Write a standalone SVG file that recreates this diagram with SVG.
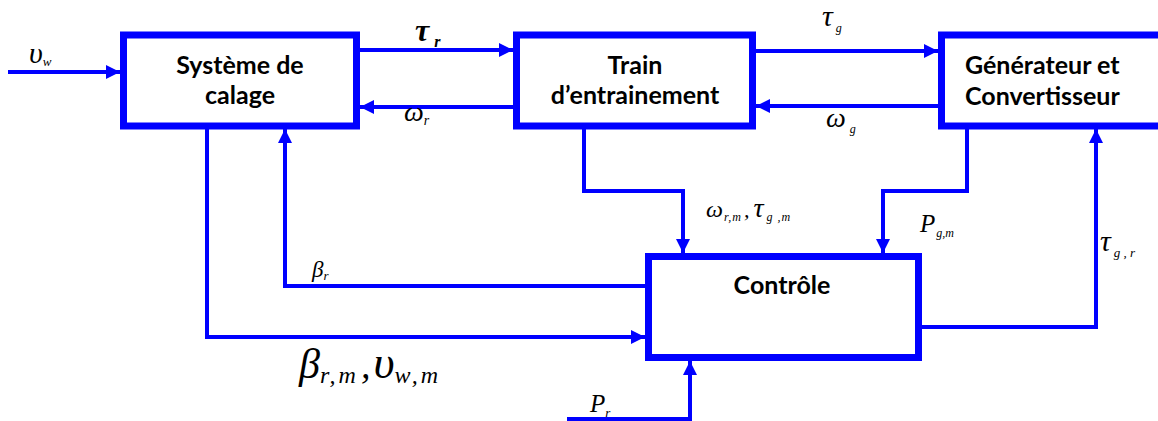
<svg xmlns="http://www.w3.org/2000/svg" width="1158" height="421" viewBox="0 0 1158 421">
  <defs>
    <marker id="arrow" markerUnits="userSpaceOnUse" markerWidth="14" markerHeight="14" viewBox="0 0 14 14" refX="14" refY="7" orient="auto">
      <path d="M0,0 L14,7 L0,14 Z" fill="#0000ff"/>
    </marker>
    <style>
      .box { fill: #ffffff; stroke: #0000ff; stroke-width: 7; }
      .lbl { font-family: Lato, "Open Sans", sans-serif; font-weight: bold; font-size: 25px; fill: #000000; }
      .wire { fill: none; stroke: #0000ff; stroke-width: 4; }
      .math { font-family: "Liberation Serif", "DejaVu Serif", serif; font-style: italic; fill: #000000; }
    </style>
  </defs>

  <rect width="1158" height="421" fill="#ffffff"/>

  <!-- connectors -->
  <g id="connectors">
    <path class="wire" d="M8,72 H120" marker-end="url(#arrow)"/>
    <path class="wire" d="M360,50 H513" marker-end="url(#arrow)"/>
    <path class="wire" d="M513,107 H360" marker-end="url(#arrow)"/>
    <path class="wire" d="M756,51 H938" marker-end="url(#arrow)"/>
    <path class="wire" d="M938,106 H756" marker-end="url(#arrow)"/>
    <path class="wire" d="M584,129 V191 H683 V253" marker-end="url(#arrow)"/>
    <path class="wire" d="M967,129 V191 H883 V253" marker-end="url(#arrow)"/>
    <path class="wire" d="M922,327 H1096 V129" marker-end="url(#arrow)"/>
    <path class="wire" d="M645,286 H285 V129" marker-end="url(#arrow)"/>
    <path class="wire" d="M207,129 V337 H645" marker-end="url(#arrow)"/>
    <path class="wire" d="M567,419 H690 V361" marker-end="url(#arrow)"/>
  </g>

  <!-- blocks -->
  <g id="node-calage">
    <rect class="box" x="123.5" y="35" width="233" height="91"/>
    <text class="lbl" x="240" y="74" text-anchor="middle">Système de</text>
    <text class="lbl" x="240" y="104" text-anchor="middle">calage</text>
  </g>
  <g id="node-train">
    <rect class="box" x="516.5" y="35" width="236" height="91"/>
    <text class="lbl" x="635" y="74" text-anchor="middle">Train</text>
    <text class="lbl" x="635" y="104" text-anchor="middle">d’entrainement</text>
  </g>
  <g id="node-generateur">
    <rect class="box" x="941.5" y="35" width="240" height="91"/>
    <text class="lbl" x="965" y="74">Générateur et</text>
    <text class="lbl" x="965" y="105">Convertisseur</text>
  </g>
  <g id="node-controle">
    <rect class="box" x="648.5" y="256.5" width="270" height="101"/>
    <text class="lbl" x="782" y="294" text-anchor="middle">Contrôle</text>
  </g>

  <!-- signal labels -->
  <g id="labels">
    <text class="math" x="29" y="63"><tspan font-size="30">υ</tspan><tspan font-size="13" dy="3">w</tspan></text>
    <text class="math" x="415" y="41" font-weight="bold"><tspan font-size="32">τ</tspan><tspan font-size="16" dy="6" dx="5">r</tspan></text>
    <text class="math" x="404" y="121"><tspan font-size="28">ω</tspan><tspan font-size="14" dy="4">r</tspan></text>
    <text class="math" x="822" y="26"><tspan font-size="30">τ</tspan><tspan font-size="12" dy="6" dx="3">g</tspan></text>
    <text class="math" x="826" y="127"><tspan font-size="28">ω</tspan><tspan font-size="12" dy="6" dx="4">g</tspan></text>
    <text class="math" x="706" y="217"><tspan font-size="24">ω</tspan><tspan font-size="12" dy="4" dx="1" letter-spacing="1">r,m</tspan><tspan font-size="22" dy="-4" dx="2">,</tspan><tspan font-size="28" dx="4">τ</tspan><tspan font-size="12" dy="4" dx="3" letter-spacing="1">g ,m</tspan></text>
    <text class="math" x="920" y="232"><tspan font-size="25">P</tspan><tspan font-size="12" dy="5" dx="1">g,m</tspan></text>
    <text class="math" x="1100" y="251"><tspan font-size="30">τ</tspan><tspan font-size="13" dy="6" dx="3">g , r</tspan></text>
    <text class="math" x="312" y="277"><tspan font-size="23">β</tspan><tspan font-size="13" dy="3">r</tspan></text>
    <text class="math" x="299" y="378"><tspan font-size="42">β</tspan><tspan font-size="24" dy="5" letter-spacing="3">r,m</tspan><tspan font-size="38" dy="-5" dx="2">,</tspan><tspan font-size="46" dx="3">υ</tspan><tspan font-size="24" dy="5" letter-spacing="3">w,m</tspan></text>
    <text class="math" x="590" y="412"><tspan font-size="25">P</tspan><tspan font-size="13" dy="5">r</tspan></text>
  </g>
</svg>
